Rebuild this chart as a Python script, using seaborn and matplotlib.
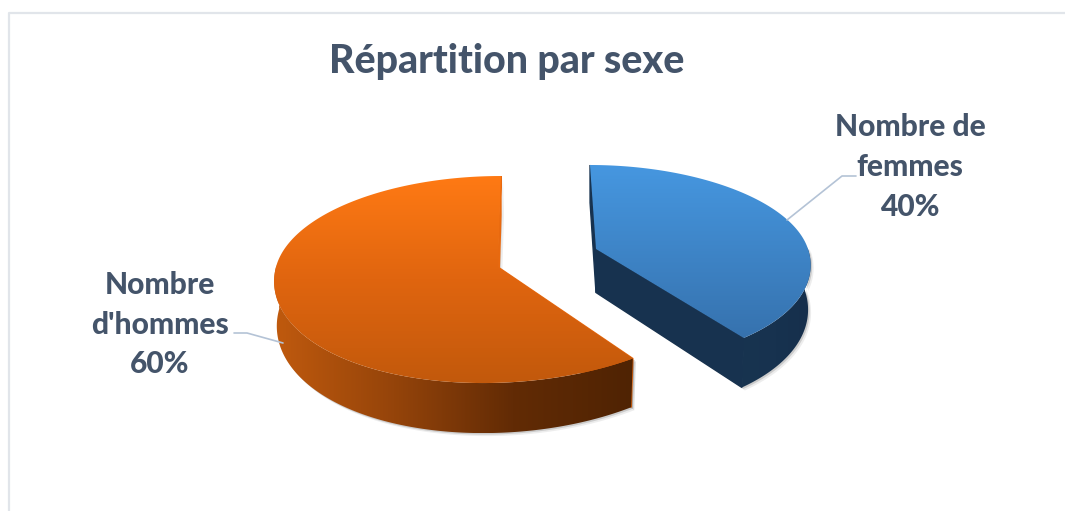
import numpy as np
import matplotlib
matplotlib.use("Agg")
import matplotlib.pyplot as plt
from matplotlib.patches import Polygon
import seaborn as sns

# data
labels = ["Nombre de\nfemmes", "Nombre\nd'hommes"]
values = [40, 60]
title = "Répartition par sexe"

# look of each slice, screen pixels
slices = [
    dict(apex=(596, 249), rx=212, ry=96.6, persp=0.15, skew_back=-6, skew_front=9, depth=43.5,
         face=["#4697e0", "#3672ae"], wall=["#183450", "#17324f", "#162f4c"], cut="#17324f"),
    dict(apex=(498, 267), rx=222, ry=102, persp=0.121, skew_back=3, skew_front=-15, depth=44,
         face=["#ff7a14", "#e0650f", "#c2590c"], wall=["#c05a0e", "#95440a", "#622b05", "#4f2303"],
         cut="#e8690f"),
]

text_color = "#44546a"
leader_color = "#b4c3d6"
frame_color = "#e1e5ea"

sns.set_theme(style="white")
plt.rcParams["font.family"] = ["Lato", "DejaVu Sans"]

fig = plt.figure(figsize=(10.65, 5.11), dpi=100)
ax = fig.add_axes([0, 0, 1, 1])
ax.set_axis_off()


def rim(s, theta):
    # top edge of a slice in perspective, theta clockwise from the back of the pie
    u = np.sin(theta)
    v = -np.cos(theta)
    near = 1 / (1 - s["persp"] * v)
    shift = v ** 2 * np.where(v < 0, s["skew_back"], s["skew_front"])
    return s["apex"][0] + s["rx"] * u * near + shift, s["apex"][1] + s["ry"] * v * near


def lower(s, theta):
    # same points moved down the side of the pie, narrowing slightly
    x, y = rim(s, theta)
    near = 1 / (1 - s["persp"] * -np.cos(theta))
    return s["apex"][0] + (x - s["apex"][0]) * 0.988, y + s["depth"] * near


def shade(poly, colors, vertical=True):
    grad = np.linspace(0, 1, 256)
    grad = grad[:, None] if vertical else grad[None, :]
    x0, y0 = poly.min(axis=0)
    x1, y1 = poly.max(axis=0)
    im = ax.imshow(grad, cmap=sns.blend_palette(colors, as_cmap=True), extent=(x0, x1, y1, y0),
                   origin="upper", aspect="auto", interpolation="bilinear", zorder=3)
    patch = Polygon(poly, closed=True, transform=ax.transData, fc="none", ec="none")
    ax.add_patch(patch)
    im.set_clip_path(patch)


shares = np.array(values) / sum(values)
edges = np.concatenate([[0], np.cumsum(shares)]) * 2 * np.pi

for i, s in enumerate(slices):
    start, end = edges[i], edges[i + 1]
    t = np.linspace(start, end, 300)
    x, y = rim(s, t)
    ax0, ay0 = s["apex"]
    face = np.column_stack([np.r_[ax0, x], np.r_[ay0, y]])

    # side of the pie, only the part facing the viewer
    tf = t[-np.cos(t) >= -0.02]
    fx, fy = rim(s, tf)
    lx, ly = lower(s, tf)
    side = np.column_stack([np.r_[fx, lx[::-1]], np.r_[fy, ly[::-1]]])

    # cut faces on the two straight edges
    cuts = []
    for th in (start, end):
        tx, ty = rim(s, th)
        bx, by = lower(s, th)
        cuts.append(np.array([[ax0, ay0], [tx, ty], [bx, by], [ax0, ay0 + s["depth"]]]))

    # soft shadow below the solid
    for off, alpha in [(1.5, 0.22), (3, 0.10)]:
        for poly in [side, cuts[0], cuts[1]]:
            ax.add_patch(Polygon(poly + off, closed=True, fc="#555555", ec="none", alpha=alpha, zorder=1))

    for poly in cuts:
        ax.add_patch(Polygon(poly, closed=True, fc=s["cut"], ec=s["cut"], lw=1, zorder=2))
    shade(side, s["wall"], vertical=False)
    shade(face, s["face"])

# data labels
label_pos = [(910, 127.5), (160, 285)]
for lab, share, (px, py) in zip(labels, shares, label_pos):
    for j, line in enumerate(f"{lab}\n{share:.0%}".split("\n")):
        ax.text(px, py + j * 39.5, line, ha="center", va="center", fontsize=21.6,
                fontweight=900, color=text_color, zorder=5)

# leader lines
ax.plot([787, 842, 856], [220, 176, 176], color=leader_color, lw=1.2, zorder=4)
ax.plot([234, 247, 283], [333, 333, 343], color=leader_color, lw=1.2, zorder=4)

ax.text(507, 62, title, ha="center", va="center", fontsize=28.3, fontweight=900, color=text_color)

# chart frame
ax.plot([9, 9, 1065], [511, 13.5, 13.5], color=frame_color, lw=1.6, zorder=0)

ax.set_xlim(0, 1065)
ax.set_ylim(511, 0)
fig.savefig("out.png", dpi=100, facecolor="white")
